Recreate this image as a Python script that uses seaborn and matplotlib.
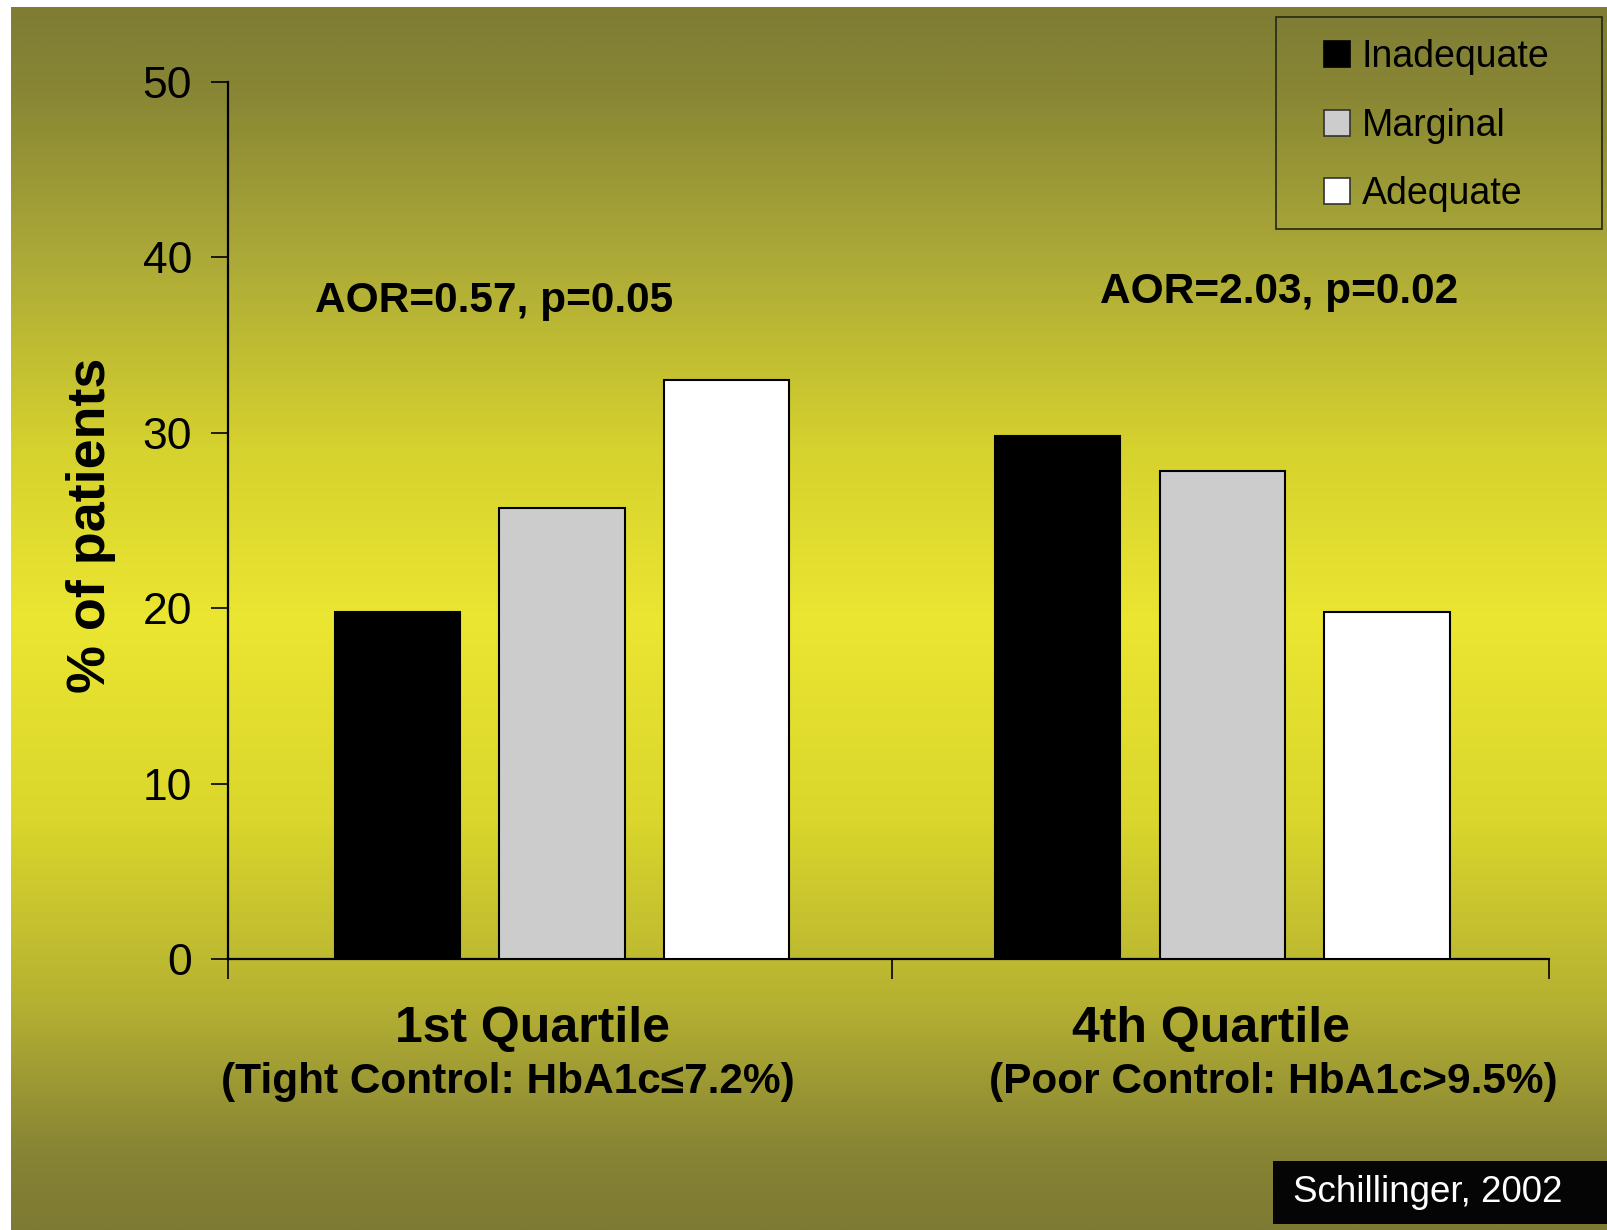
import numpy as np
import pandas as pd
import matplotlib
matplotlib.use("Agg")
import matplotlib.pyplot as plt
import seaborn as sns
from matplotlib.lines import Line2D
from matplotlib.patches import Rectangle
from matplotlib import font_manager

# ---- data -------------------------------------------------------------
groups = ["1st Quartile", "4th Quartile"]
group_notes = ["(Tight Control: HbA1c≤7.2%)", "(Poor Control: HbA1c>9.5%)"]
literacy = ["Inadequate", "Marginal", "Adequate"]
inadequate = [19.8, 29.8]
marginal = [25.7, 27.8]
adequate = [33.0, 19.8]
aor_labels = ["AOR=0.57, p=0.05", "AOR=2.03, p=0.02"]
y_ticks = [0, 10, 20, 30, 40, 50]
source = "Schillinger, 2002"

df = pd.DataFrame({
    "group": groups * 3,
    "literacy": np.repeat(literacy, len(groups)),
    "pct": inadequate + marginal + adequate,
})
palette = {"Inadequate": "#000000", "Marginal": "#cccccc", "Adequate": "#ffffff"}

# ---- fonts ------------------------------------------------------------
sns.set_theme(style="white")
SANS = ["Liberation Sans", "DejaVu Sans"]
plt.rcParams["font.family"] = SANS
installed = {f.name for f in font_manager.fontManager.ttflist}
has_narrow = "Liberation Sans Narrow" in installed
NARROW = ["Liberation Sans Narrow", "Liberation Sans", "DejaVu Sans"] if has_narrow else SANS
tick_size = 35 if has_narrow else 32
legend_size = 32 if has_narrow else 27

W, H = 1608, 1230
fig = plt.figure(figsize=(W / 100, H / 100), dpi=100)
fig.patch.set_facecolor("white")

# ---- olive / yellow vertical gradient backdrop ------------------------
bg = fig.add_axes([11 / W, 0, 1 - 11 / W, 1 - 7 / H], zorder=0)
stop_px = np.array([7, 20, 100, 250, 450, 620, 820, 1000, 1150, 1230])
stop_rgb = np.array([
    (127, 125, 51), (127, 126, 52), (138, 136, 52), (170, 168, 56),
    (214, 210, 46), (235, 230, 49), (218, 214, 44), (182, 178, 50),
    (136, 133, 53), (125, 122, 51),
]) / 255.0
rows = np.linspace(7, H, 600)
grad = np.stack([np.interp(rows, stop_px, stop_rgb[:, k]) for k in range(3)], axis=-1)
bg.imshow(grad[:, None, :], aspect="auto", extent=[0, 1, 0, 1], origin="upper")
bg.set_axis_off()

# ---- bar chart --------------------------------------------------------
ax = fig.add_axes([228 / W, 1 - 959 / H, (1549 - 228) / W, (959 - 82) / H], zorder=1)
ax.set_facecolor("none")
sns.barplot(
    data=df, x="group", y="pct", hue="literacy", order=groups,
    hue_order=literacy, palette=palette, edgecolor="black", linewidth=1.5,
    width=0.748, gap=0.239, legend=False, ax=ax, zorder=3,
)
x_lo, x_hi = -0.5055, 1.4945
ax.set_xlim(x_lo, x_hi)
ax.set_ylim(0, 50)
ax.set_yticks(y_ticks)
ax.set_yticklabels([str(t) for t in y_ticks], fontsize=tick_size, family=NARROW, color="black")
ax.set_xticks([x_lo, 0.4995, x_hi])
ax.set_xticklabels([])
ax.tick_params(axis="y", direction="out", length=12, width=1.2, pad=14, left=True, color="black")
ax.tick_params(axis="x", direction="out", length=14.5, width=1.2, bottom=True, color="black")
for side in ("top", "right"):
    ax.spines[side].set_visible(False)
for side in ("left", "bottom"):
    ax.spines[side].set_color("black")
    ax.spines[side].set_linewidth(1.6)
ax.set_xlabel("")
ax.set_ylabel("% of patients", fontsize=38.8, fontweight="bold", color="black", va="center")
ax.yaxis.set_label_coords(-0.1035, 0.495)

# AOR annotations above each group
aor_x = [-0.1025, 1.0855]
aor_y = [37.5, 38.0]
for x, y, s in zip(aor_x, aor_y, aor_labels):
    ax.text(x, y, s, ha="center", va="center", fontsize=30.5, fontweight="bold", color="black")

# group labels below the axis
trans = ax.get_xaxis_transform()
title_x = [-0.0445, 0.9825]
note_x = [-0.0825, 1.0765]
for gx, nx, g, n in zip(title_x, note_x, groups, group_notes):
    ax.text(gx, -0.080, g, transform=trans, ha="center", va="center",
            fontsize=36, fontweight="bold", color="black", clip_on=False)
    ax.text(nx, -0.140, n, transform=trans, ha="center", va="center",
            fontsize=30.5, fontweight="bold", color="black", clip_on=False)

# ---- legend: frame box plus swatch/label entries --------------------
fig.patches.append(Rectangle((1276 / W, 1 - 229 / H), (1602 - 1276) / W, (229 - 17) / H,
                             transform=fig.transFigure, facecolor="none",
                             edgecolor="#2e2e18", linewidth=1.3, zorder=4))
handles = [
    Line2D([], [], marker="s", linestyle="", markersize=18.5,
           markerfacecolor=palette[k], markeredgecolor="#333333" if k != "Inadequate" else "black",
           markeredgewidth=1.2)
    for k in literacy
]
leg = fig.legend(
    handles, literacy, loc="upper left", bbox_to_anchor=(1326 / W, 1 - 39 / H),
    frameon=False, prop={"family": NARROW, "size": legend_size}, borderpad=0,
    labelspacing=0.87, handlelength=0.6, handletextpad=0.35, borderaxespad=0,
)
leg.set_zorder(5)
for t in leg.get_texts():
    t.set_color("black")

# ---- source tag ------------------------------------------------------
fig.patches.append(Rectangle((1273 / W, 1 - 1224 / H), (W - 1273) / W, 63 / H,
                             transform=fig.transFigure, facecolor="#050505",
                             edgecolor="none", zorder=4))
fig.text(1293 / W, 1 - 1192 / H, source, ha="left", va="center",
         fontsize=26.5, color="white", zorder=6)

fig.savefig("out.png", dpi=100)
